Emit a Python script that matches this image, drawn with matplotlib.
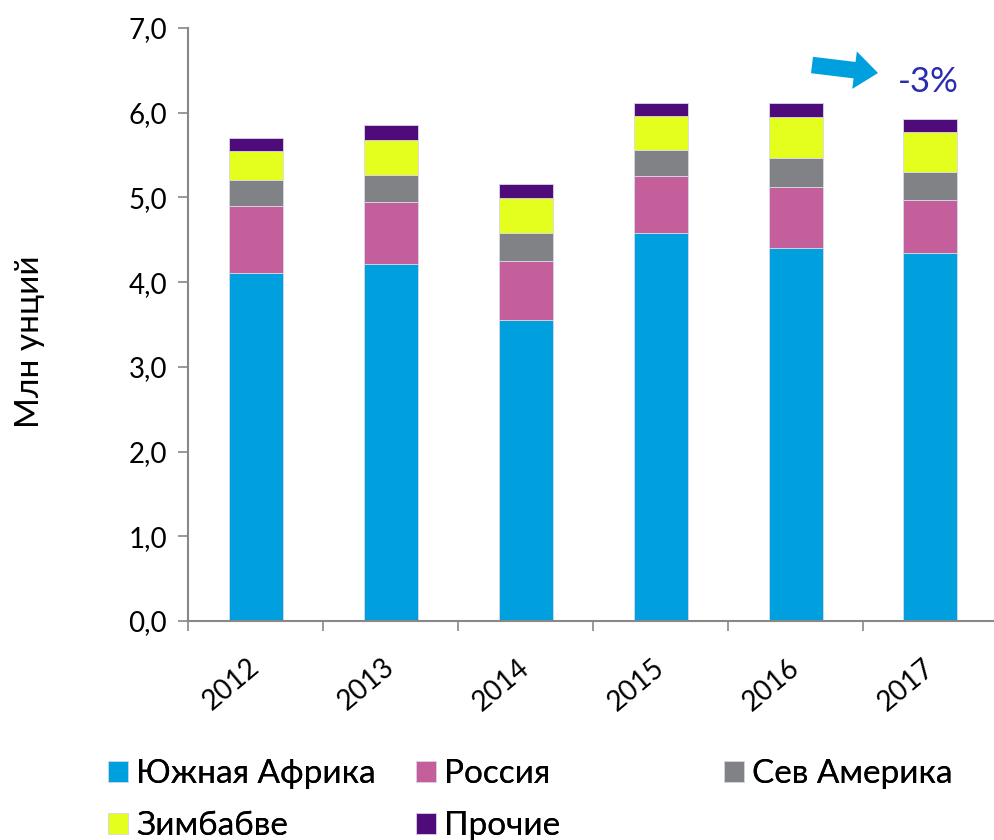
import matplotlib
matplotlib.use("Agg")
import matplotlib.pyplot as plt
import numpy as np

years = ["2012", "2013", "2014", "2015", "2016", "2017"]
south_africa = [4.11, 4.21, 3.55, 4.58, 4.40, 4.34]
russia = [0.79, 0.73, 0.70, 0.67, 0.72, 0.63]
north_america = [0.31, 0.33, 0.33, 0.31, 0.34, 0.33]
zimbabwe = [0.34, 0.41, 0.41, 0.40, 0.49, 0.47]
others = [0.15, 0.17, 0.17, 0.16, 0.17, 0.16]
series_names = ["Южная Африка", "Россия", "Сев Америка", "Зимбабве", "Прочие"]
colors = ["#00A0DF", "#C55F9B", "#818285", "#E4FF1E", "#500B7A"]
yticks = [0, 1, 2, 3, 4, 5, 6, 7]
ylabel = "Млн унций"
change_label = "-3%"

plt.rcParams['font.family'] = ['Lato', 'DejaVu Sans']

fig = plt.figure(figsize=(9.95, 8.4), dpi=100)
ax = fig.add_axes([0.189, 0.2607, 0.814, 0.706])

x = np.arange(len(years))
series = [south_africa, russia, north_america, zimbabwe, others]
bottom = np.zeros(len(years))
handles = []
for vals, c, name in zip(series, colors, series_names):
    h = ax.bar(x, vals, width=0.4, bottom=bottom, color=c, edgecolor="#D8D8E8",
               linewidth=0.6, label=name)
    handles.append(h)
    bottom += np.array(vals)

ax.set_xlim(-0.5, 5.5)
ax.set_ylim(0, 7)
ax.set_yticks(yticks)
ax.set_yticklabels([f"{v:.1f}".replace(".", ",") for v in yticks], fontsize=20)
ax.set_xticks(x)
ax.set_xticklabels(years, rotation=40, fontsize=20, ha="right", va="center",
                   rotation_mode="anchor")
ax.tick_params(axis="x", which="major", length=0, pad=31)
ax.set_xticks(np.arange(-0.5, 5.6, 1), minor=True)
ax.tick_params(axis="x", which="minor", length=7, color="#888888", width=1.2)
ax.tick_params(axis="y", length=7, color="#888888", width=1.2, pad=8)

for s in ["top", "right"]:
    ax.spines[s].set_visible(False)
for s in ["left", "bottom"]:
    ax.spines[s].set_color("#888888")
    ax.spines[s].set_linewidth(1.5)

fig.text(30 / 995, 1 - 342 / 840, ylabel, rotation=90, fontsize=24,
         ha="center", va="center")

# arrow and change label
ax.annotate("", xy=(878 / 995, 1 - 73 / 840), xytext=(812 / 995, 1 - 65 / 840),
            xycoords="figure fraction", textcoords="figure fraction",
            arrowprops=dict(arrowstyle="simple,head_length=1.0,head_width=1.6,tail_width=0.7",
                            color="#00A0DF", lw=0, shrinkA=0, shrinkB=0,
                            mutation_scale=17))
fig.text(928 / 995, 1 - 82 / 840, change_label, fontsize=25, color="#2B2BAF",
         ha="center", va="center")

# legend: three columns placed like the reference (row-major order)
legend_cols = [([0, 3], 108), ([1, 4], 416), ([2], 724)]
for idxs, xpix in legend_cols:
    leg = fig.legend(handles=[handles[i] for i in idxs],
                     labels=[series_names[i] for i in idxs],
                     loc="upper left", bbox_to_anchor=(xpix / 995, 1 - 759 / 840),
                     ncol=1, frameon=False, fontsize=24,
                     handlelength=0.6, handleheight=0.6, handletextpad=0.25,
                     labelspacing=0.66, borderaxespad=0, borderpad=0)
    fig.add_artist(leg)

fig.savefig("out.png", dpi=100)
